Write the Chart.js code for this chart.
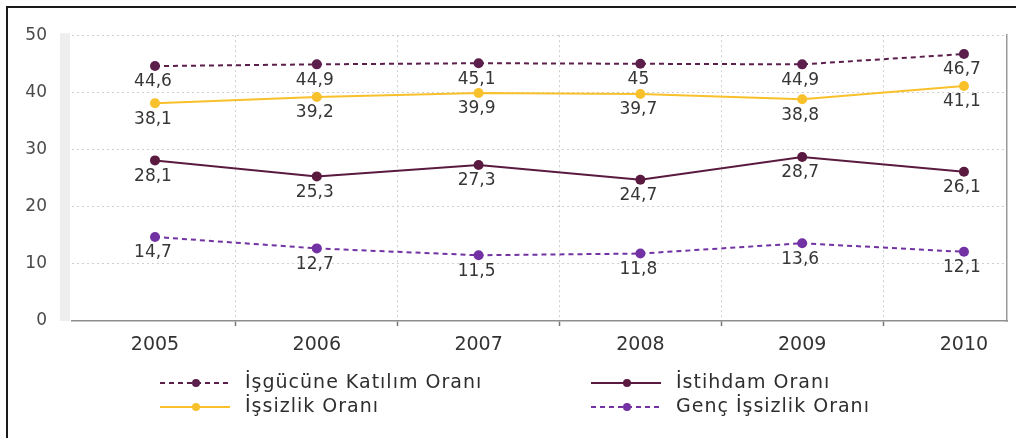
<!DOCTYPE html>
<html>
<head>
<meta charset="utf-8">
<script src="https://cdn.jsdelivr.net/npm/chart.js@4.4.1/dist/chart.umd.min.js"></script>
<style>
  html, body { margin: 0; padding: 0; background: #fff; overflow: hidden; }
  #wrap { position: relative; width: 1016px; height: 442px; overflow: hidden; }
  #frame { position: absolute; left: 6px; top: 6px; width: 1000px; height: 430px;
           border-top: 2px solid #1a1a1a; border-left: 2px solid #1a1a1a; pointer-events: none; }
  #frameTop { position: absolute; left: 6px; top: 6px; width: 1010px; height: 2px; background: #1a1a1a; }
</style>
</head>
<body>
<div id="wrap">
  <canvas id="c" width="1016" height="442"></canvas>
  <div id="frame"></div>
  <div id="frameTop"></div>
</div>
<script>
// ---- data ----
const years = [2005, 2006, 2007, 2008, 2009, 2010];
const seriesNames = ["İşgücüne Katılım Oranı", "İstihdam Oranı", "İşsizlik Oranı", "Genç İşsizlik Oranı"];
const isgucu   = [44.6, 44.9, 45.1, 45, 44.9, 46.7];
const istihdam = [28.1, 25.3, 27.3, 24.7, 28.7, 26.1];
const issizlik = [38.1, 39.2, 39.9, 39.7, 38.8, 41.1];
const genc     = [14.7, 12.7, 11.5, 11.8, 13.6, 12.1];
const yTicks   = [0, 10, 20, 30, 40, 50];

const FONT = '"DejaVu Sans", "Noto Sans", sans-serif';

function pts(arr) { return years.map((x, i) => ({ x: x, y: arr[i] })); }
function ds(label, arr, color, dash) {
  return {
    label: label, data: pts(arr),
    borderColor: color, backgroundColor: color,
    pointBackgroundColor: color, pointBorderColor: color,
    borderWidth: 2, borderDash: dash, pointRadius: 5, pointBorderWidth: 0,
    pointHoverRadius: 5, tension: 0
  };
}

const gridVals = years.slice(0, -1).map(y => y + 0.5);
const xTickVals = years.concat(gridVals).sort((a, b) => a - b);

const decoPlugin = {
  id: 'deco',
  beforeDraw(chart) {
    const { ctx, chartArea } = chart;
    ctx.save();
    ctx.fillStyle = '#eeeeee';
    ctx.fillRect(chartArea.left - 12, chartArea.top - 2, 10, chartArea.bottom - chartArea.top + 2);
    ctx.restore();
  },
  afterDatasetsDraw(chart) {
    const { ctx } = chart;
    ctx.save();
    ctx.font = '17px ' + FONT;
    ctx.fillStyle = '#363636';
    ctx.textAlign = 'center';
    ctx.textBaseline = 'middle';
    chart.data.datasets.forEach((d, di) => {
      const meta = chart.getDatasetMeta(di);
      meta.data.forEach((p, i) => {
        const v = d.data[i].y;
        ctx.fillText(String(v).replace('.', ','), p.x - 2, p.y + 16);
      });
    });
    ctx.restore();
  },
  afterDraw(chart) {
    const { ctx } = chart;
    const cols = [{ lx: 160, tx: 245 }, { lx: 591, tx: 676 }];
    const rows = [383, 407];
    ctx.save();
    chart.data.datasets.forEach((d, i) => {
      const c = cols[i % 2], y = rows[Math.floor(i / 2)];
      ctx.strokeStyle = d.borderColor;
      ctx.lineWidth = 2;
      ctx.setLineDash(d.borderDash || []);
      ctx.beginPath();
      ctx.moveTo(c.lx, y); ctx.lineTo(c.lx + 70, y);
      ctx.stroke();
      ctx.setLineDash([]);
      ctx.fillStyle = d.borderColor;
      ctx.beginPath();
      ctx.arc(c.lx + 36, y, 4, 0, Math.PI * 2);
      ctx.fill();
      ctx.fillStyle = '#2e2e2e';
      ctx.font = '19px ' + FONT;
      try { ctx.letterSpacing = '1px'; } catch (e) {}
      ctx.textAlign = 'left';
      ctx.textBaseline = 'middle';
      ctx.fillText(d.label, c.tx, y);
      try { ctx.letterSpacing = '0px'; } catch (e) {}
    });
    ctx.restore();
  }
};

new Chart(document.getElementById('c'), {
  type: 'line',
  data: {
    datasets: [
      ds(seriesNames[0], isgucu,   '#5c1f4c', [5, 4]),
      ds(seriesNames[1], istihdam, '#5a1a40', []),
      ds(seriesNames[2], issizlik, '#f8c02a', []),
      ds(seriesNames[3], genc,     '#7232a3', [5, 4])
    ]
  },
  options: {
    responsive: false,
    animation: false,
    devicePixelRatio: 1,
    layout: { padding: { left: 0, right: 9, top: 32, bottom: 0 } },
    plugins: { legend: { display: false }, tooltip: { enabled: false }, title: { display: false } },
    scales: {
      x: {
        type: 'linear',
        min: 2004.487, max: 2010.266,
        afterBuildTicks(axis) { axis.ticks = xTickVals.map(v => ({ value: v })); },
        afterFit(axis) { axis.height = 121; },
        ticks: {
          autoSkip: false, maxRotation: 0, padding: 8,
          color: '#333', font: { family: FONT, size: 19 },
          callback: v => Number.isInteger(v) ? String(v) : ''
        },
        grid: {
          color: c => (c.tick && Number.isInteger(c.tick.value)) ? 'rgba(0,0,0,0)' : '#cfcfcf',
          tickColor: c => (c.tick && Number.isInteger(c.tick.value)) ? 'rgba(0,0,0,0)' : '#777',
          lineWidth: 1, tickLength: 5, tickWidth: 1.5
        },
        border: { display: true, color: '#8e8e8e', width: 1.5, dash: [2, 3] }
      },
      y: {
        min: 0, max: 50,
        afterBuildTicks(axis) { axis.ticks = yTicks.map(v => ({ value: v })); },
        afterFit(axis) { axis.width = 72; },
        ticks: { padding: 25, color: '#4a4a4a', font: { family: FONT, size: 17 } },
        grid: {
          drawTicks: false, lineWidth: 1,
          color: c => (c.tick && c.tick.value === 0) ? 'rgba(0,0,0,0)' : '#cfcfcf'
        },
        border: { display: false, dash: [2, 3] }
      },
      yRight: {
        position: 'right', min: 0, max: 50,
        afterFit(axis) { axis.width = 0; },
        ticks: { display: false },
        grid: { display: false, drawTicks: false },
        border: { display: true, color: '#9a9a9a', width: 1.5 }
      }
    }
  },
  plugins: [decoPlugin]
});
</script>
</body>
</html>
